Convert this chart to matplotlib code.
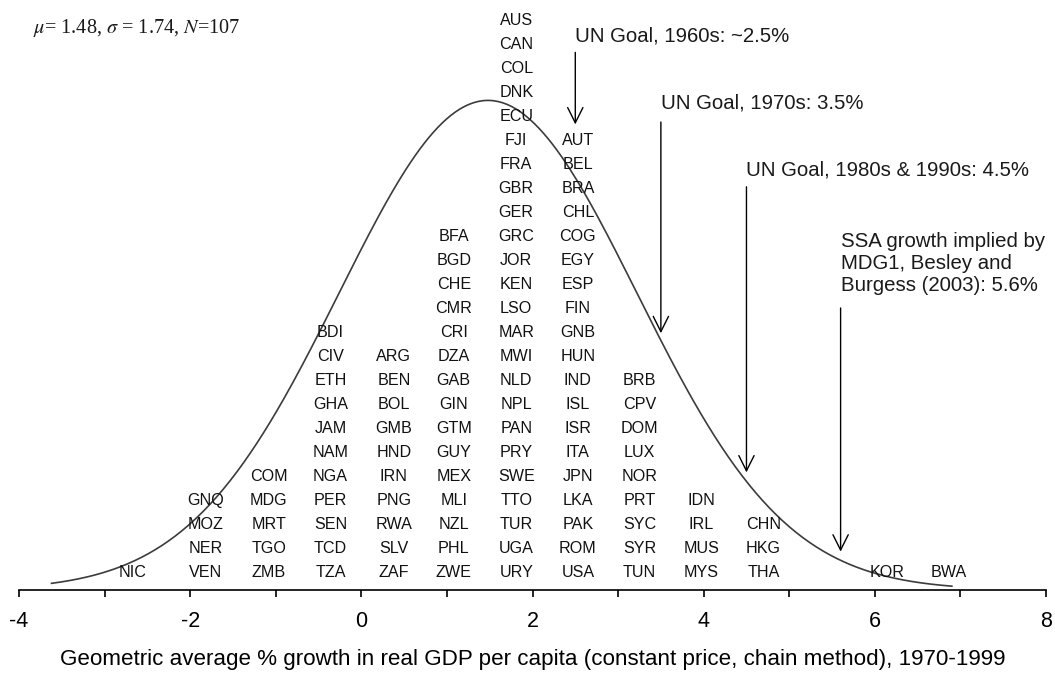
import numpy as np
import matplotlib
matplotlib.use("Agg")
import matplotlib.pyplot as plt

# ---- data -------------------------------------------------------------
mu, sigma, n_obs = 1.48, 1.74, 107

# growth-rate bin centres (% per year) and the countries falling in each bin,
# listed alphabetically from the top of the stack down
bin_centers = [-2.67, -1.82, -1.08, -0.36, 0.38, 1.08, 1.81, 2.53, 3.25, 3.97, 4.70, 6.14, 6.86]
bin_countries = [
    ["NIC"],
    ["GNQ", "MOZ", "NER", "VEN"],
    ["COM", "MDG", "MRT", "TGO", "ZMB"],
    ["BDI", "CIV", "ETH", "GHA", "JAM", "NAM", "NGA", "PER", "SEN", "TCD", "TZA"],
    ["ARG", "BEN", "BOL", "GMB", "HND", "IRN", "PNG", "RWA", "SLV", "ZAF"],
    ["BFA", "BGD", "CHE", "CMR", "CRI", "DZA", "GAB", "GIN", "GTM", "GUY", "MEX",
     "MLI", "NZL", "PHL", "ZWE"],
    ["AUS", "CAN", "COL", "DNK", "ECU", "FJI", "FRA", "GBR", "GER", "GRC", "JOR",
     "KEN", "LSO", "MAR", "MWI", "NLD", "NPL", "PAN", "PRY", "SWE", "TTO", "TUR",
     "UGA", "URY"],
    ["AUT", "BEL", "BRA", "CHL", "COG", "EGY", "ESP", "FIN", "GNB", "HUN", "IND",
     "ISL", "ISR", "ITA", "JPN", "LKA", "PAK", "ROM", "USA"],
    ["BRB", "CPV", "DOM", "LUX", "NOR", "PRT", "SYC", "SYR", "TUN"],
    ["IDN", "IRL", "MUS", "MYS"],
    ["CHN", "HKG", "THA"],
    ["KOR"],
    ["BWA"],
]

# growth targets marked with arrows
goal_values = [2.5, 3.5, 4.5, 5.6]
goal_labels = [
    "UN Goal, 1960s: ~2.5%",
    "UN Goal, 1970s: 3.5%",
    "UN Goal, 1980s & 1990s: 4.5%",
    "SSA growth implied by\nMDG1, Besley and\nBurgess (2003): 5.6%",
]

x_ticks = [-4, -2, 0, 2, 4, 6, 8]
x_label = ("Geometric average % growth in real GDP per capita "
           "(constant price, chain method), 1970-1999")

# ---- figure -----------------------------------------------------------
plt.rcParams["font.family"] = ["Liberation Sans", "DejaVu Sans"]
plt.rcParams["mathtext.fontset"] = "stix"

fig = plt.figure(figsize=(10.55, 6.74), dpi=100)
ax = fig.add_axes([19 / 1055, 84 / 674, 1027 / 1055, 580 / 674])
ax.set_xlim(-4, 8)
ax.set_ylim(0, 580 / 24)

# stacked country codes (one row per country)
row0 = 0.71
for xc, names in zip(bin_centers, bin_countries):
    for k, name in enumerate(reversed(names)):
        ax.text(xc, row0 + k, name, ha="center", va="center",
                fontsize=11.6, color="#111111")

# fitted normal curve, scaled to the stack height
curve_peak = 20.4
xs = np.linspace(-3.62, 6.9, 400)
ax.plot(xs, curve_peak * np.exp(-0.5 * ((xs - mu) / sigma) ** 2),
        color="#3c3c3c", lw=1.2)

# goal arrows with their captions
arrow_tips = [19.4, 10.7, 4.9, 1.6]
arrow_tails = [22.4, 19.5, 16.8, 11.75]
label_y = [23.1, 20.3, 17.5, 13.6]
for g, lab, tip, tail, ly in zip(goal_values, goal_labels, arrow_tips, arrow_tails, label_y):
    ax.annotate("", xy=(g, tip), xytext=(g, tail),
                arrowprops=dict(arrowstyle="->,head_length=1.1,head_width=0.55",
                                color="black", lw=1.0, shrinkA=0, shrinkB=0))
    ax.text(g, ly, lab, ha="left", va="center", fontsize=14.7,
            color="#1a1a1a", linespacing=1.2)

# summary statistics
ax.text(33 / 1055, 1 - 17 / 674, r"$\mu$= %.2f, $\sigma$ = %.2f, $N$=%d" % (mu, sigma, n_obs),
        transform=fig.transFigure, ha="left", va="top", fontsize=14.6,
        family=["Liberation Serif", "DejaVu Serif"], color="#1a1a1a")

# axis styling
for side in ("left", "right", "top"):
    ax.spines[side].set_visible(False)
ax.spines["bottom"].set_linewidth(1.2)
ax.set_yticks([])
ax.set_xticks(x_ticks)
ax.set_xticks(np.arange(-3, 8, 2), minor=True)
ax.tick_params(axis="x", which="both", direction="out", length=5, width=1.2,
               labelsize=15.5, pad=10)
ax.set_xticklabels([str(t) for t in x_ticks])
ax.set_xlabel(x_label, fontsize=16.1, labelpad=12)

fig.savefig("out.png", dpi=100)
